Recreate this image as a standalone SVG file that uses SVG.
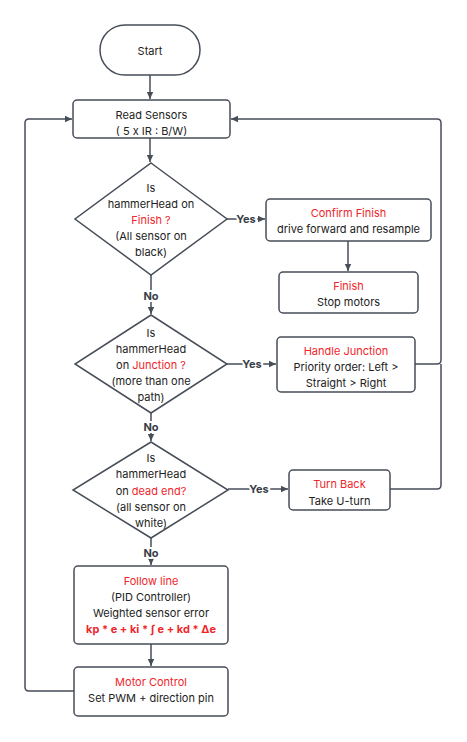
<svg xmlns="http://www.w3.org/2000/svg" width="467" height="742" viewBox="0 0 467 742">
<defs>
<marker id="ah" markerWidth="8" markerHeight="8" refX="7" refY="4" orient="auto" markerUnits="userSpaceOnUse">
<path d="M0,0.8 L7,4 L0,7.2 Z" fill="#474e58"/>
</marker>
<style>
.s{fill:#fff;stroke:#474e58;stroke-width:1.5}
.c{fill:none;stroke:#474e58;stroke-width:1.5}
text{font-family:Inter,"Liberation Sans",sans-serif;font-size:11px;fill:#222;text-anchor:middle}
.r{fill:#f0262b}
.b{font-weight:bold}
.l{font-weight:bold;fill:#3a4048;stroke:#fff;stroke-width:4;paint-order:stroke;stroke-linejoin:round}
</style>
</defs>
<rect width="467" height="742" fill="#fff"/>
<g id="connectors">
<path class="c" d="M150,75 V99" marker-end="url(#ah)"/>
<path class="c" d="M150,138 V162" marker-end="url(#ah)"/>
<path class="c" d="M227,219 H265" marker-end="url(#ah)"/>
<path class="c" d="M348,241 V271" marker-end="url(#ah)"/>
<path class="c" d="M151,275 V314" marker-end="url(#ah)"/>
<path class="c" d="M227,364 H276" marker-end="url(#ah)"/>
<path class="c" d="M415,364 H437 Q441,364 441,360 V123 Q441,119 437,119 H231" marker-end="url(#ah)"/>
<path class="c" d="M151,413 V441" marker-end="url(#ah)"/>
<path class="c" d="M228,489 H288" marker-end="url(#ah)"/>
<path class="c" d="M390,489 H437 Q441,489 441,485 V364"/>
<path class="c" d="M151,538 V565" marker-end="url(#ah)"/>
<path class="c" d="M151,644 V666" marker-end="url(#ah)"/>
<path class="c" d="M74,691 H29 Q25,691 25,687 V123 Q25,119 29,119 H72" marker-end="url(#ah)"/>
<text class="l" x="246" y="223">Yes</text>
<text class="l" x="151" y="300">No</text>
<text class="l" x="252" y="368">Yes</text>
<text class="l" x="151" y="431">No</text>
<text class="l" x="259" y="493">Yes</text>
<text class="l" x="151" y="557">No</text>
</g>
<g id="start">
<rect class="s" x="100" y="25" width="100" height="50" rx="25"/>
<text x="150" y="55">Start</text>
</g>
<g id="read-sensors">
<rect class="s" x="73" y="100" width="157" height="38" rx="4"/>
<text x="151.5" y="119">Read Sensors</text>
<text x="151.5" y="135">( 5 x IR : B/W)</text>
</g>
<g id="finish-decision">
<path class="s" d="M151,163 L227,219 L151,275 L75,219 Z"/>
<text x="151" y="192">Is</text>
<text x="151" y="208">hammerHead on</text>
<text x="151" y="224" class="r">Finish ?</text>
<text x="151" y="240">(All sensor on</text>
<text x="151" y="256">black)</text>
</g>
<g id="confirm-finish">
<rect class="s" x="266" y="199" width="165" height="42" rx="4"/>
<text x="348.5" y="217" class="r">Confirm Finish</text>
<text x="348.5" y="233">drive forward and resample</text>
</g>
<g id="finish">
<rect class="s" x="279" y="272" width="139" height="41" rx="4"/>
<text x="348.5" y="290" class="r">Finish</text>
<text x="348.5" y="306">Stop motors</text>
</g>
<g id="junction-decision">
<path class="s" d="M151,315 L227,364 L151,413 L75,364 Z"/>
<text x="151" y="337">Is</text>
<text x="151" y="353">hammerHead</text>
<text x="151" y="369">on <tspan class="r">Junction ?</tspan></text>
<text x="151" y="385">(more than one</text>
<text x="151" y="401">path)</text>
</g>
<g id="handle-junction">
<rect class="s" x="277" y="337" width="138" height="55" rx="4"/>
<text x="346" y="355" class="r">Handle Junction</text>
<text x="346" y="371">Priority order: Left &gt;</text>
<text x="346" y="387">Straight &gt; Right</text>
</g>
<g id="deadend-decision">
<path class="s" d="M151,442 L228,490 L151,538 L73,490 Z"/>
<text x="151" y="462">Is</text>
<text x="151" y="478">hammerHead</text>
<text x="151" y="495">on <tspan class="r">dead end?</tspan></text>
<text x="151" y="511">(all sensor on</text>
<text x="151" y="527">white)</text>
</g>
<g id="turn-back">
<rect class="s" x="289" y="470" width="101" height="40" rx="4"/>
<text x="339.5" y="488" class="r">Turn Back</text>
<text x="339.5" y="505">Take U-turn</text>
</g>
<g id="follow-line">
<rect class="s" x="74" y="566" width="154" height="78" rx="4"/>
<text x="151" y="585" class="r">Follow line</text>
<text x="151" y="601">(PID Controller)</text>
<text x="151" y="617">Weighted sensor error</text>
<text x="151" y="633" class="r b">kp * e + ki * ∫ e + kd * Δe</text>
</g>
<g id="motor-control">
<rect class="s" x="74" y="667" width="154" height="49" rx="4"/>
<text x="151" y="686" class="r">Motor Control</text>
<text x="151" y="702">Set PWM + direction pin</text>
</g>
</svg>
